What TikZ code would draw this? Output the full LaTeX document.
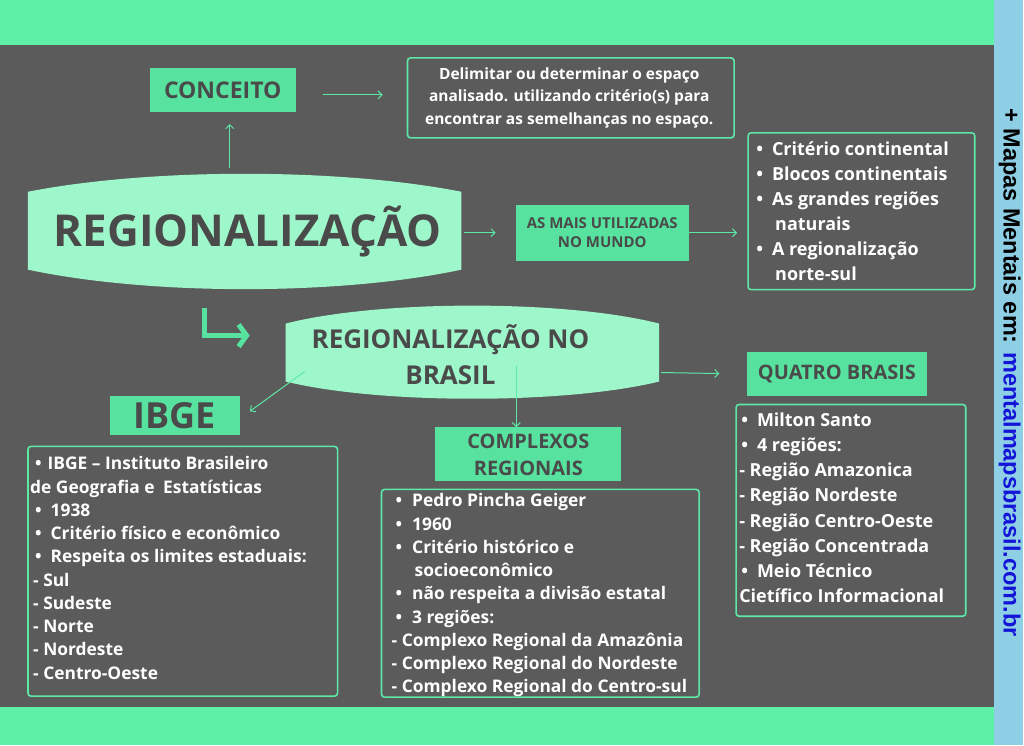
\documentclass[tikz,border=0pt]{standalone}
\usepackage{fontspec}
\setmainfont{Open Sans}
\newfontfamily\sidefont{Liberation Sans}
\usepackage{tikz}
\usetikzlibrary{arrows.meta,positioning,calc}
\definecolor{bggray}{HTML}{5B5B5B}
\definecolor{bandgreen}{HTML}{5FF0A8}
\definecolor{headgreen}{HTML}{57E39F}
\definecolor{mint}{HTML}{9EF7CB}
\definecolor{linegreen}{HTML}{5EE8A6}
\definecolor{sideblue}{HTML}{8ECFE6}
\definecolor{txtgray}{HTML}{4A4A4A}
\definecolor{linkblue}{HTML}{1414D8}

\begin{document}
\begin{tikzpicture}[x=1pt,y=-1pt,
        header/.style={rectangle, fill=headgreen, text=txtgray, font=\bfseries\fontsize{23}{26}\selectfont, align=center, inner sep=0pt},
        listbox/.style={rectangle, draw=linegreen, line width=1.6pt, rounded corners=3pt},
        listtext/.style={anchor=north west, text=white, align=left, inner sep=0pt, font=\bfseries\fontsize{17.4}{23.3}\selectfont},
        arrow/.style={draw=linegreen, line width=1pt, -{Straight Barb[length=4pt,width=8pt]}}
    ]
    % background
    \fill[bggray] (0,0) rectangle (995,746);
    \fill[bandgreen] (0,0) rectangle (995,45);
    \fill[bandgreen] (0,708) rectangle (995,746);
    \fill[sideblue] (995,0) rectangle (1024,746);
    \node[rotate=-90, font=\sidefont\bfseries\fontsize{23.5}{26}\selectfont, text=black] (side) at (1011,373)
        {+ Mapas Mentais em: \textcolor{linkblue}{mentalmapsbrasil.com.br}};

    % main shapes
    \fill[mint] (28,192) .. controls (150,168) and (340,168) .. (462,192) -- (462,270)
        .. controls (340,296) and (150,296) .. (28,270) -- cycle;
    \node[text=txtgray, font=\bfseries\fontsize{44}{46}\selectfont] (reg) at (248,232) {REGIONALIZAÇÃO};
    \fill[mint] (286,324) .. controls (380,300) and (566,300) .. (660,324) -- (660,382)
        .. controls (566,405) and (380,405) .. (286,382) -- cycle;
    \node[text=txtgray, font=\bfseries\fontsize{26}{36}\selectfont, align=center] (brasil) at (451,355) {REGIONALIZAÇÃO NO\\BRASIL};

    % headers
    \node[header, minimum width=146, minimum height=44] (conceito) at (223,90) {CONCEITO};
    \node[header, font=\bfseries\fontsize{15}{19}\selectfont, minimum width=173, minimum height=56] (mundo) at (603,233) {AS MAIS UTILIZADAS\\NO MUNDO};
    \node[header, font=\bfseries\fontsize{36}{38}\selectfont, minimum width=130, minimum height=40] (ibge) at (175,416) {IBGE};
    \node[header, font=\bfseries\fontsize{20}{27}\selectfont, minimum width=186, minimum height=54] (complexos) at (529,455) {COMPLEXOS\\REGIONAIS};
    \node[header, font=\bfseries\fontsize{20}{24}\selectfont, minimum width=181, minimum height=44] (quatro) at (838,374) {QUATRO BRASIS};

    % text boxes
    \draw[listbox] (408,58) rectangle (735,138);
    \node[text=white, align=center, font=\bfseries\fontsize{15.5}{22.5}\selectfont] (def) at (570,98)
        {Delimitar ou determinar o espaço\\analisado. utilizando critério(s) para\\encontrar as semelhanças no espaço.};
    \draw[listbox] (749,133) rectangle (976,290);
    \node[listtext, font=\bfseries\fontsize{18}{25}\selectfont] (crit) at (757,142)
        {•\hspace{9pt}Critério continental\\•\hspace{9pt}Blocos continentais\\•\hspace{9pt}As grandes regiões\\\hspace{19pt}naturais\\•\hspace{9pt}A regionalização\\\hspace{19pt}norte-sul};
    \draw[listbox] (28,447) rectangle (338,697);
    \node[listtext] (ibgelist) at (30,457)
        {\hspace{5pt}•\hspace{6pt}IBGE – Instituto Brasileiro\\de Geografia e\hspace{4pt} Estatísticas\\\hspace{5pt}•\hspace{9pt}1938\\\hspace{5pt}•\hspace{9pt}Critério físico e econômico\\\hspace{5pt}•\hspace{9pt}Respeita os limites estaduais:\\\hspace{3pt}- Sul\\\hspace{3pt}- Sudeste\\\hspace{3pt}- Norte\\\hspace{3pt}- Nordeste\\\hspace{3pt}- Centro-Oeste};
    \draw[listbox] (382,490) rectangle (700,698);
    \node[listtext] (complist) at (392,494)
        {\hspace{4pt}•\hspace{10pt}Pedro Pincha Geiger\\\hspace{4pt}•\hspace{10pt}1960\\\hspace{4pt}•\hspace{10pt}Critério histórico e\\\hspace{23pt}socioeconômico\\\hspace{4pt}•\hspace{10pt}não respeita a divisão estatal\\\hspace{4pt}•\hspace{10pt}3 regiões:\\- Complexo Regional da Amazônia\\- Complexo Regional do Nordeste\\- Complexo Regional do Centro-sul};
    \draw[listbox] (737,405) rectangle (967,617);
    \node[listtext, font=\bfseries\fontsize{18}{25.2}\selectfont] (quatrolist) at (740,413)
        {\hspace{2pt}•\hspace{9pt}Milton Santo\\\hspace{2pt}•\hspace{9pt}4 regiões:\\- Região Amazonica\\- Região Nordeste\\- Região Centro-Oeste\\- Região Concentrada\\\hspace{2pt}•\hspace{9pt}Meio Técnico\\Cietífico Informacional};

    % connections
    \coordinate (regtop) at (230,168);
    \path[arrow] (regtop) -- ([yshift=-12pt]regtop |- conceito.south);
    \path[arrow] (conceito.east) ++(27,5) coordinate (c1) -- ++(60,0) coordinate (c2);
    \path[arrow] (465,233) -- ([xshift=-20pt]mundo.west);
    \path[arrow] (mundo.east) -- (738,233);
    \path[arrow] (305,372) -- ([xshift=10pt,yshift=-16pt]ibge.north east);
    \path[arrow] (517,366) -- (complexos.north -| 517,0);
    \path[arrow] (662,373) -- ([xshift=-27pt]quatro.west);
    \draw[headgreen, line width=5pt, -{Straight Barb[length=8pt,width=22pt]}] (205,308) |- (250,336);
\end{tikzpicture}
\end{document}
